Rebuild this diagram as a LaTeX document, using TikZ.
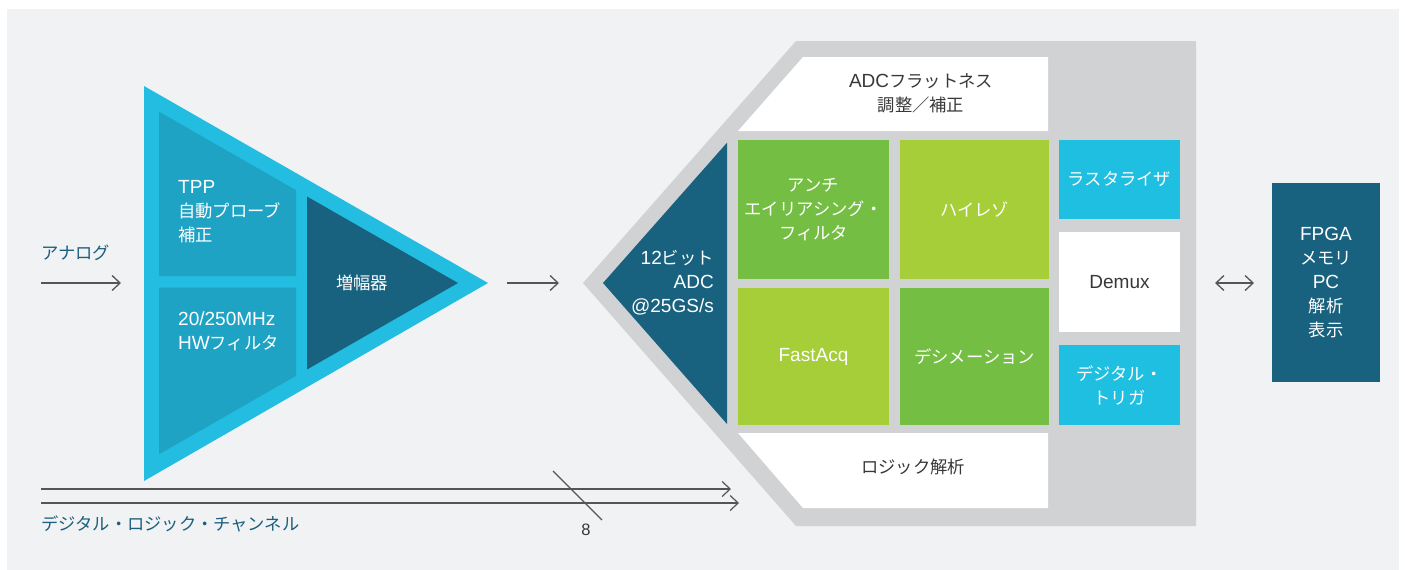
\documentclass[tikz,border=0pt]{standalone}
\usepackage{fontspec}
\setmainfont{Noto Sans CJK JP}
\newfontfamily\latf[Scale=1.1]{Liberation Sans}
\newcommand\ltn[1]{{\latf #1}}
\usetikzlibrary{arrows.meta}
\definecolor{bgpanel}{HTML}{F1F2F4}
\definecolor{cyanout}{HTML}{22BDE0}
\definecolor{cyanin}{HTML}{1FA3C4}
\definecolor{darkblue}{HTML}{19627F}
\definecolor{graybox}{HTML}{D1D2D4}
\definecolor{greendark}{HTML}{74BE43}
\definecolor{greenlight}{HTML}{A6CE39}
\definecolor{cyanbox}{HTML}{1EBFE0}
\definecolor{textdark}{HTML}{383838}
\definecolor{textteal}{HTML}{1B5E7D}
\definecolor{arrowgray}{HTML}{555555}
\begin{document}
\begin{tikzpicture}[x=1pt,y=-1pt,
  txt/.style={font=\fontsize{17.3}{24}\selectfont, align=center, inner sep=0pt},
  wtxt/.style={txt, text=white},
  dtxt/.style={txt, text=textdark},
  arr/.style={draw=arrowgray, line width=1.3pt, -{Straight Barb[length=8pt,width=15pt]}},
  darr/.style={draw=arrowgray, line width=1.3pt, {Straight Barb[length=8pt,width=15pt]}-{Straight Barb[length=8pt,width=15pt]}},
  thin/.style={draw=arrowgray, line width=1.2pt},
]
\useasboundingbox (0,0) rectangle (1405,570);
\fill[white] (0,0) rectangle (1405,570);
\fill[bgpanel] (7,9) rectangle (1399,570);

% left amplifier triangle
\fill[cyanout] (144,86) -- (488,283) -- (144,481) -- cycle;
\fill[cyanin] (159,111.7) -- (296,190.2) -- (296,276) -- (159,276) -- cycle;
\fill[cyanin] (159,287.7) -- (296,287.7) -- (296,375.8) -- (159,454.3) -- cycle;
\fill[darkblue] (307,196.5) -- (458,283) -- (307,369.5) -- cycle;

\node[wtxt, align=left, anchor=west] (tpp) at (178,212) {\ltn{TPP}\\自動プローブ\\補正};
\node[wtxt, align=left, anchor=west] (hwf) at (178,331) {\ltn{20/250MHz}\\\ltn{HW}フィルタ};
\node[wtxt] (amp) at (362,283) {増幅器};

% right processing block
\fill[graybox] (796,41) -- (1196,41) -- (1196,526) -- (796,526) -- (583,283) -- cycle;
\fill[white] (803,57) -- (1048,57) -- (1048,131) -- (738,131) -- cycle;
\fill[white] (738,433) -- (1048,433) -- (1048,508) -- (803,508) -- cycle;
\fill[darkblue] (727,142.7) -- (727,424) -- (603,283) -- cycle;

\node[dtxt] (flat) at (921,93) {\ltn{ADC}フラットネス\\調整／補正};
\node[dtxt] (logic) at (913,467) {ロジック解析};
\node[wtxt, align=right, anchor=east] (adc) at (714,283) {\ltn{12}ビット\\\ltn{ADC}\\\ltn{@25GS/s}};

\node[wtxt, fill=greendark, minimum width=151pt, minimum height=139pt] (anti) at (813.5,209.5) {アンチ\\エイリアシング・\\フィルタ};
\node[wtxt, fill=greenlight, minimum width=149pt, minimum height=139pt] (hires) at (974.5,209.5) {ハイレゾ};
\node[wtxt, fill=greenlight, minimum width=151pt, minimum height=137pt] (fast) at (813.5,356.5) {\ltn{FastAcq}};
\node[wtxt, fill=greendark, minimum width=149pt, minimum height=137pt] (deci) at (974.5,356.5) {デシメーション};

\node[wtxt, fill=cyanbox, minimum width=121pt, minimum height=79pt] (rast) at (1119.5,179.5) {ラスタライザ};
\node[dtxt, fill=white, minimum width=121pt, minimum height=100pt] (demux) at (1119.5,282) {\ltn{Demux}};
\node[wtxt, fill=cyanbox, minimum width=121pt, minimum height=80pt] (trig) at (1119.5,385) {デジタル・\\トリガ};

\node[wtxt, fill=darkblue, minimum width=108pt, minimum height=199pt] (fpga) at (1326,282.5) {\ltn{FPGA}\\メモリ\\\ltn{PC}\\解析\\表示};

% labels
\node[txt, text=textteal, anchor=west] (analog) at (41,253) {アナログ};
\node[txt, text=textteal, anchor=west] (dlc) at (41,524) {デジタル・ロジック・チャンネル};
\node[txt, text=textdark, font=\latf\fontsize{15}{18}\selectfont] (eight) at (586,530) {8};

% connectors
\coordinate (a1s) at (41,283);
\coordinate (a1e) at (121,283);
\coordinate (a2s) at (507,283);
\coordinate (a2e) at (559,283);
\coordinate (a3s) at (1215,283);
\coordinate (a3e) at (1254,283);
\coordinate (d1s) at (41,489);
\coordinate (d1e) at (731,489);
\coordinate (d2s) at (41,503);
\coordinate (d2e) at (739,503);
\coordinate (sl1) at (553,471);
\coordinate (sl2) at (602,520);
\draw[arr] (a1s) -- (a1e);
\draw[arr] (a2s) -- (a2e);
\draw[darr] (a3s) -- (a3e);
\draw[arr, line width=1.2pt] (d1s) -- (d1e);
\draw[arr, line width=1.2pt] (d2s) -- (d2e);
\draw[thin] (sl1) -- (sl2);
\end{tikzpicture}
\end{document}
